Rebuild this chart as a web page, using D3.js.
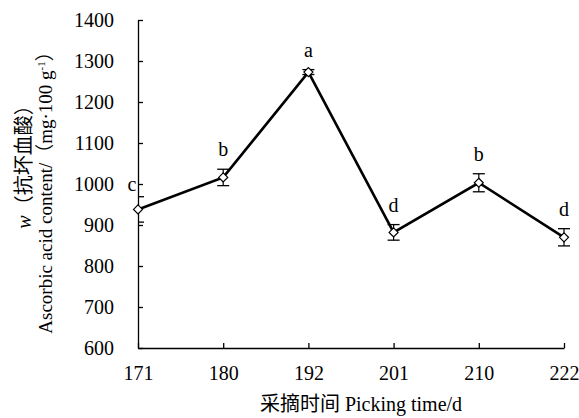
<!DOCTYPE html>
<html>
<head>
<meta charset="utf-8">
<script src="https://cdn.jsdelivr.net/npm/d3@7"></script>
<style>
  body { margin: 0; background: #fff; }
  text { font-family: "Liberation Serif", "Times New Roman", "Noto Sans CJK SC", serif; }
</style>
</head>
<body>
<div id="chart"></div>
<script>
const days = ["171", "180", "192", "201", "210", "222"];
const content = [938, 1016, 1273, 882, 1003, 870];
const errors = [31, 20, 6, 19, 22, 21];
const letters = ["c", "b", "a", "d", "b", "d"];
const yTicks = [600, 700, 800, 900, 1000, 1100, 1200, 1300, 1400];

const W = 579, H = 418;
const plotLeft = 138, plotRight = 564, plotTop = 20, plotBottom = 348;

const svg = d3.select("#chart").append("svg")
    .attr("width", W)
    .attr("height", H);

const x = d3.scalePoint().domain(days).range([plotLeft, plotRight]);
const y = d3.scaleLinear().domain([600, 1400]).range([plotBottom, plotTop]);

svg.append("defs").append("clipPath")
    .attr("id", "plot")
    .append("rect")
    .attr("x", plotLeft).attr("y", 0)
    .attr("width", W - plotLeft).attr("height", H);

// axes, ticks pointing inward
const yAxis = svg.append("g")
    .attr("transform", `translate(${plotLeft},0)`)
    .call(d3.axisLeft(y).tickValues(yTicks).tickFormat(d3.format("d"))
      .tickSizeInner(-5).tickSizeOuter(0).tickPadding(24));

const xAxis = svg.append("g")
    .attr("transform", `translate(0,${plotBottom})`)
    .call(d3.axisBottom(x).tickSizeInner(-5).tickSizeOuter(0).tickPadding(18));

[yAxis, xAxis].forEach(g => {
  g.selectAll("path, line").attr("stroke", "#000").attr("stroke-width", 1.3);
  g.selectAll("text")
      .attr("fill", "#000")
      .style("font-size", "20px")
      .style("font-family", "'Liberation Serif', serif");
});

const pts = days.map((d, i) => ({ day: d, v: content[i], e: errors[i], l: letters[i] }));

// error bars
const eb = svg.append("g").attr("clip-path", "url(#plot)");
pts.forEach(p => {
  const cx = x(p.day);
  eb.append("line")
      .attr("x1", cx).attr("x2", cx)
      .attr("y1", y(p.v + p.e)).attr("y2", y(p.v - p.e))
      .attr("stroke", "#000").attr("stroke-width", 1.2);
  [p.v + p.e, p.v - p.e].forEach(v => {
    eb.append("line")
        .attr("x1", cx - 6).attr("x2", cx + 6)
        .attr("y1", y(v)).attr("y2", y(v))
        .attr("stroke", "#000").attr("stroke-width", 1.3);
  });
});

const line = d3.line().x(d => x(d.day)).y(d => y(d.v));
svg.append("path")
    .datum(pts)
    .attr("fill", "none")
    .attr("stroke", "#000")
    .attr("stroke-width", 2.6)
    .attr("d", line);

// diamond markers
svg.selectAll(".mk")
    .data(pts)
    .enter().append("path")
    .attr("class", "mk")
    .attr("transform", d => `translate(${x(d.day)},${y(d.v)})`)
    .attr("d", "M0,-4.5L4.5,0L0,4.5L-4.5,0Z")
    .attr("fill", "#fff")
    .attr("stroke", "#000")
    .attr("stroke-width", 1.2);

// significance letters
svg.selectAll(".lt")
    .data(pts)
    .enter().append("text")
    .attr("class", "lt")
    .attr("x", (d, i) => i === 0 ? x(d.day) - 6 : x(d.day))
    .attr("y", (d, i) => i === 0 ? y(d.v + d.e) - 6 : y(d.v + d.e) - 13)
    .attr("text-anchor", "middle")
    .style("font-size", "20px")
    .text(d => d.l);

// axis titles
svg.append("text")
    .attr("x", 361)
    .attr("y", 411)
    .attr("text-anchor", "middle")
    .style("font-size", "20px")
    .text("采摘时间 Picking time/d");

const t1 = svg.append("text")
    .attr("transform", "translate(31,162) rotate(-90)")
    .attr("text-anchor", "middle")
    .style("font-size", "20px");
t1.append("tspan").style("font-style", "italic").text("w");
t1.append("tspan").text("（抗坏血酸）");

const t2 = svg.append("text")
    .attr("transform", "translate(52,188) rotate(-90)")
    .attr("text-anchor", "middle")
    .style("font-size", "19px");
t2.append("tspan").text("Ascorbic acid content/（mg·100 g");
t2.append("tspan").attr("dy", -7).style("font-size", "11px").text("-1");
t2.append("tspan").attr("dy", 7).text("）");
</script>
</body>
</html>
